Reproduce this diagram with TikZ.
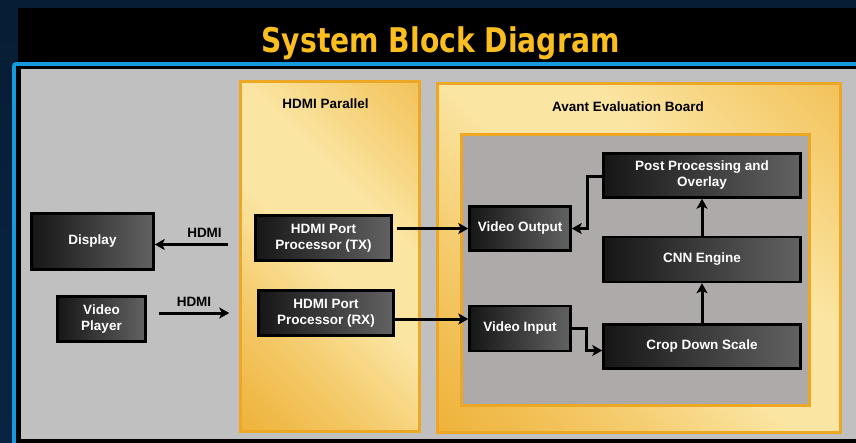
\documentclass[tikz,border=0pt]{standalone}
\usepackage{fontspec}
\usepackage{graphicx}
\setmainfont{Liberation Sans}
\newfontfamily\titlefont{DejaVu Sans}
\usetikzlibrary{positioning,arrows.meta}

\definecolor{navy}{RGB}{9,36,66}
\definecolor{frameblue}{RGB}{24,152,222}
\definecolor{panelgray}{RGB}{192,192,192}
\definecolor{boardgray}{RGB}{174,170,169}
\definecolor{amber}{RGB}{236,168,36}
\definecolor{cream}{RGB}{251,229,162}
\definecolor{gold}{RGB}{250,190,32}
\definecolor{blkdark}{RGB}{22,22,22}
\definecolor{blklight}{RGB}{98,98,98}

\pgfdeclarehorizontalshading{glow}{100bp}{color(0bp)=(amber); color(14bp)=(amber!85!cream); color(32bp)=(amber!45!cream); color(48bp)=(cream); color(62bp)=(cream); color(80bp)=(amber!45!cream); color(100bp)=(amber!85!cream)}

\newcommand{\boxfont}{\bfseries\fontsize{13.5}{16}\selectfont}

\begin{document}
\begin{tikzpicture}[
    x=1pt, y=-1pt,
    blk/.style={rectangle, draw=black, line width=2.5pt, left color=blkdark, right color=blklight, text=white, font=\boxfont, align=center, inner sep=0pt},
    grp/.style={rectangle, draw=amber, line width=3pt, shading=glow, shading angle=45},
    lbl/.style={font=\boxfont, text=black},
    arrow/.style={-{Stealth[length=10pt,width=11pt,inset=2.5pt]}, line width=3pt}
]
\useasboundingbox (0,0) rectangle (856,442);
\clip (0,0) rectangle (856,442);

% Background and frame
\shade[top color=navy!80!black, bottom color=navy] (0,0) rectangle (856,442);
\fill[black] (18,8) rectangle (856,62);
\fill[frameblue, rounded corners=4pt] (12,62) rectangle (870,460);
\fill[black] (16,66) rectangle (860,446);
\fill[panelgray] (21,69) rectangle (856,439);

% Title
\node[text=gold, font=\titlefont\bfseries\fontsize{34}{40}\selectfont, anchor=base] (title) at (440.5,52.5) {\scalebox{0.83}[1]{System Block Diagram}};

% Groups
\node[grp, minimum width=179pt, minimum height=350pt] (hdmipar) at (330,256.5) {};
\node[lbl] (hdmititle) at (325.5,104) {HDMI Parallel};
\node[grp, minimum width=403pt, minimum height=349pt] (avant) at (639,258) {};
\node[lbl] (avanttitle) at (628,107) {Avant Evaluation Board};
\node[rectangle, draw=amber, line width=3pt, fill=boardgray, minimum width=348pt, minimum height=271pt] (fpga) at (635.5,270) {};

% External devices
\node[blk, minimum width=122pt, minimum height=56pt] (display) at (92.5,241.5) {Display};
\node[blk, minimum width=88pt, minimum height=45pt] (player) at (101.5,319) {Video\\Player};

% HDMI port processors
\node[blk, minimum width=136pt, minimum height=45pt] (tx) at (323.5,238) {HDMI Port\\Processor (TX)};
\node[blk, minimum width=135pt, minimum height=45pt] (rx) at (326,313) {HDMI Port\\Processor (RX)};

% Board blocks
\node[blk, minimum width=101pt, minimum height=44pt] (vout) at (520,228.5) {Video Output};
\node[blk, minimum width=101pt, minimum height=45pt, below=53pt of vout] (vin) {Video Input};
\node[blk, minimum width=197pt, minimum height=44pt] (crop) at (702,346.5) {Crop Down Scale};
\node[blk, minimum width=197pt, minimum height=45pt, above=40pt of crop] (cnn) {CNN Engine};
\node[blk, minimum width=197pt, minimum height=44pt, above=37pt of cnn] (post) {Post Processing and\\Overlay};

% Arrows
\draw[arrow, shorten <=26pt] ([yshift=-3pt]display.east -| tx.west) -- node[lbl, above=2pt] {HDMI} ([yshift=-3pt]display.east);
\draw[arrow, shorten <=12pt, shorten >=28pt] (player.east |- rx.west) -- node[lbl, above=2pt, xshift=-8pt] {HDMI} (rx.west);
\draw[arrow] ([xshift=4pt]tx.east |- vout.west) -- (vout.west);
\draw[arrow] ([yshift=-6pt]rx.east) -- ([yshift=-6pt]rx.east -| vin.west);
\draw[arrow] (vin.east) -- ++(15,0) |- ([yshift=-4pt]crop.west);
\draw[arrow] (crop) -- (cnn);
\draw[arrow] (cnn) -- (post);
\draw[arrow] ([yshift=-1pt]post.west) -- ++(-15,0) |- (vout.east);

\end{tikzpicture}
\end{document}
